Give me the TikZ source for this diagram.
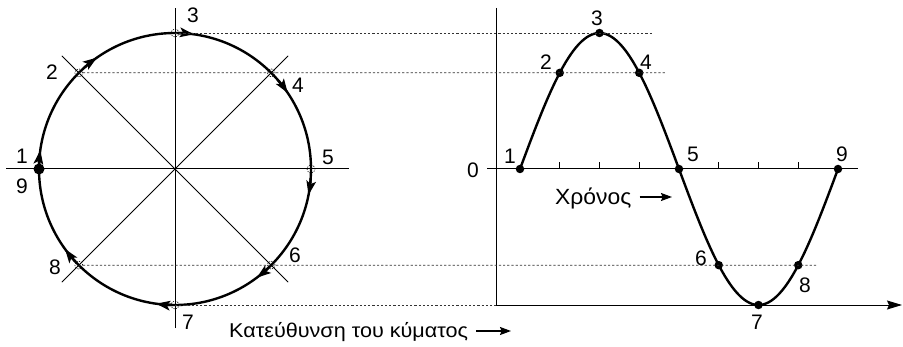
\documentclass[tikz,border=0pt]{standalone}
\usepackage{fontspec}
\setmainfont{Liberation Sans}
\newfontfamily\widesans[FakeStretch=1.08]{Liberation Sans}
\newfontfamily\midsans[FakeStretch=1.04]{Liberation Sans}
\usetikzlibrary{arrows.meta,calc}
\begin{document}
\begin{tikzpicture}[x=1pt,y=1pt,
  thinline/.style={line width=1pt},
  thickline/.style={line width=2.4pt},
  guide/.style={line width=0.8pt, dash pattern=on 2.2pt off 2pt, black!80},
  lbl/.style={font=\fontsize{21}{21}\selectfont, inner sep=0pt},
  dotm/.style={circle, fill=black, inner sep=0pt, minimum size=8.5pt},
  ringm/.style={circle, draw, line width=0.6pt, dash pattern=on 1.2pt off 1.2pt, inner sep=0pt, minimum size=8pt},
  tip/.style={-{Stealth[length=14pt,width=9.5pt,inset=3pt]}}
]
\useasboundingbox (0,0) rectangle (903,346);
% ---------- circle ----------
\coordinate (C) at (175,177);
\draw[thinline] (6,177) -- (349,177);
\draw[thinline] (175,18) -- (175,338);
\draw[thinline] (C) ++(135:160) -- ++(-45:320);
\draw[thinline] (C) ++(45:160) -- ++(225:320);
\draw[thickline] (C) circle (136);
\foreach \a in {172,125,82,34,-11,-53,-98,216}{
  \draw[thickline,tip] (C) ++(\a+7:136) arc (\a+7:\a:136);
}
\foreach \n/\a in {p2/135,p3/90,p4/45,p5/0,p6/-45,p7/-90,p8/225}{
  \coordinate (\n) at ($(C)+(\a:136)$);
}
\node[dotm, minimum size=11pt] (p1) at (39,177) {};
\foreach \n in {p2,p3,p4,p5,p6,p7,p8}{ \node[ringm] at (\n) {}; }
% labels left
\node[lbl] (l1) at (22,190) {1};
\node[lbl] (l9) at (22,160) {9};
\node[lbl] (l2) at (52,274) {2};
\node[lbl] (l3) at (193,331) {3};
\node[lbl] (l4) at (298,261) {4};
\node[lbl] (l5) at (328,189) {5};
\node[lbl] (l6) at (295,91) {6};
\node[lbl] (l7) at (188,24) {7};
\node[lbl] (l8) at (55,79) {8};
% ---------- graph ----------
\coordinate (O) at (496,41);
\draw[thinline] (496,338) -- (O);
\draw[thinline,-{Stealth[length=15pt,width=9pt,inset=2pt]}] (O) -- (902,41);
\draw[thinline] (487,177) -- (858,177);
\foreach \k in {1,2,3,5,6,7}{ \draw[thinline] ({520+39.75*\k},177) -- ++(0,7); }
\draw[thickline] plot[domain=0:360, samples=120, smooth] ({520+\x*0.88333},{177+136*sin(\x)});
\foreach \k in {1,...,9}{
  \node[dotm] (q\k) at ({520+39.75*(\k-1)},{177+136*sin(45*(\k-1))}) {};
}
% guide lines
\coordinate (g3) at (652,313);
\coordinate (g2) at (665,273.2);
\coordinate (g8) at (818,80.8);
\draw[guide] (p3) -- (g3);
\draw[guide] (p2) -- (g2);
\draw[guide] (p8) -- (g8);
\draw[guide] (p7) -- (O);
% labels right
\node[lbl] (r0) at (473,176) {0};
\node[lbl] (r1) at (510,190) {1};
\node[lbl] (r2) at (546,284) {2};
\node[lbl] (r3) at (597,328) {3};
\node[lbl] (r4) at (646,284) {4};
\node[lbl] (r5) at (693,192) {5};
\node[lbl] (r9) at (842,192) {9};
\node[lbl] (r6) at (701,88) {6};
\node[lbl] (r7) at (757,24) {7};
\node[lbl] (r8) at (805,61) {8};
% texts
\node[inner sep=0pt, anchor=west, font=\midsans\fontsize{22}{22}\selectfont] (time) at (555,148) {Χρόνος};
\coordinate (ta) at (672,149);
\draw[line width=1.4pt, -{Stealth[length=11pt,width=8pt,inset=1.5pt]}] ([xshift=8pt]time.east |- ta) -- (ta);
\node[inner sep=0pt, anchor=west, font=\widesans\fontsize{20}{20}\selectfont] (dir) at (229,14) {Κατεύθυνση του κύματος};
\coordinate (da) at (511,15);
\draw[line width=1.4pt, -{Stealth[length=11pt,width=8pt,inset=1.5pt]}] ([xshift=8pt]dir.east |- da) -- (da);
\end{tikzpicture}
\end{document}
